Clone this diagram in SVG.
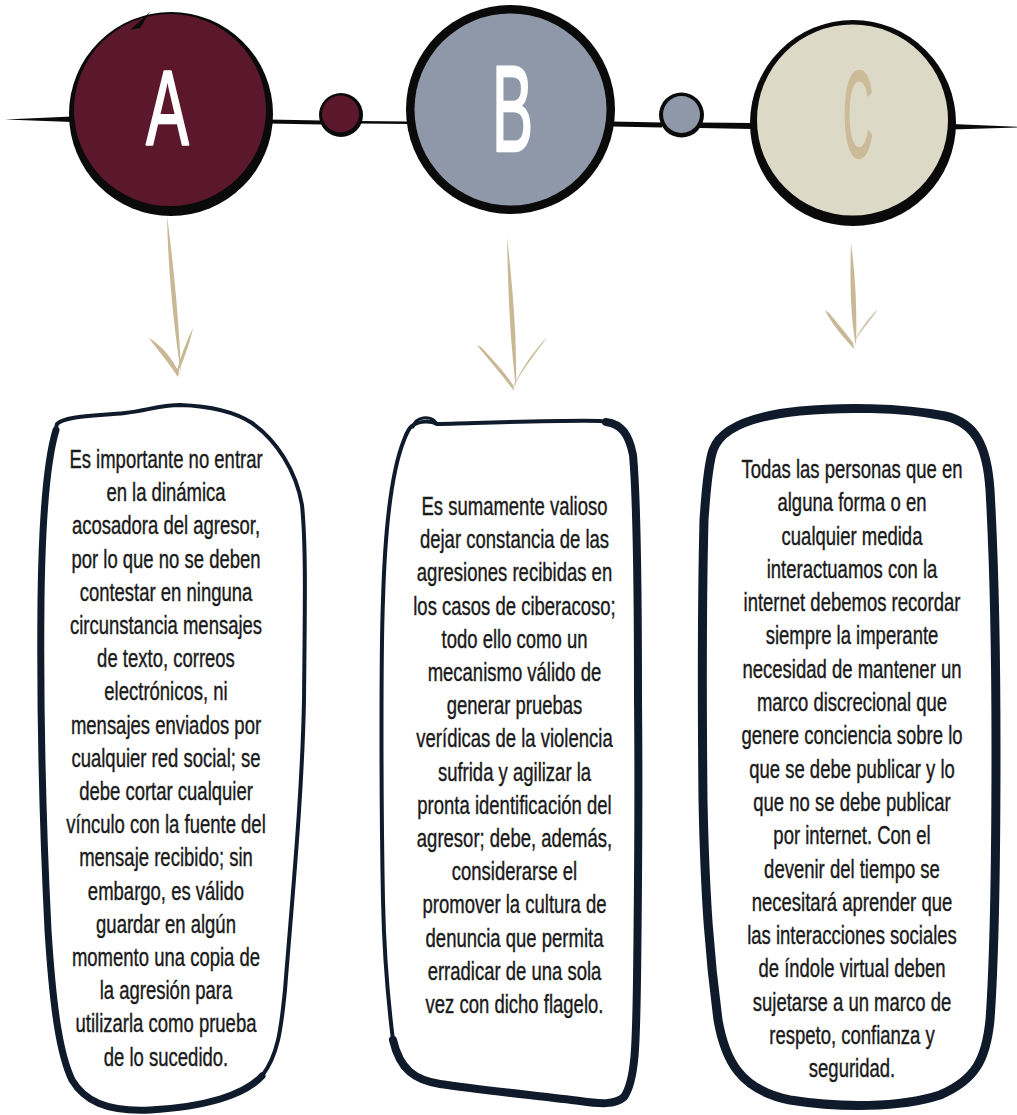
<svg xmlns="http://www.w3.org/2000/svg" width="1017" height="1115" viewBox="0 0 1017 1115">
<style>
.ink{fill:#0a0a0a}
.line{fill:#0a0a0a}
.arrow{fill:#c8b896}
.box{fill:#ffffff;stroke:#0f1b2b;stroke-linejoin:round;stroke-linecap:round}
.boxedge{fill:none;stroke:#0f1b2b;stroke-linecap:round;stroke-linejoin:round}
.t{font-family:"Liberation Sans",Arial,sans-serif;font-size:25px;fill:#1a1a1a;stroke:#1a1a1a;stroke-width:0.4px;text-anchor:middle}
.letter{font-family:"Liberation Sans",Arial,sans-serif;font-weight:normal;text-anchor:middle;stroke-width:2.5px;stroke-linejoin:round}
</style>
<rect width="1017" height="1115" fill="#ffffff"/>

<g id="connectors">
  <path class="line" d="M5,119.5 L72,116.5 L72,122 Z"/>
  <path class="line" d="M268,119.5 L322,120.5 L322,124.5 L268,123.5 Z"/>
  <path class="line" d="M358,121 L410,121.5 L410,124 L358,123.5 Z"/>
  <path class="line" d="M612,121.5 L662,122.5 L662,127.5 L612,126.5 Z"/>
  <path class="line" d="M700,122.5 L752,123 L752,129 L700,128 Z"/>
  <path class="line" d="M952,124 L1017,126.8 L1017,127.6 L952,129.5 Z"/>
  <!-- arrow A -->
  <path class="arrow" d="M167,216 C173,260 179,320 181,373 C174,330 168,270 167,216 Z"/>
  <path class="arrow" d="M149,338 C162,346 173,358 180,376 C175,368 160,353 149,338 Z"/>
  <path class="arrow" d="M149,338 L153,341 C163,352 172,362 179,371 L178,377 C168,362 158,350 149,338 Z"/>
  <path class="arrow" d="M193,328 C185,345 179,360 176,376 C183,362 189,346 193,328 Z"/>
  <path class="arrow" d="M193,328 L191,334 C185,348 180,362 178,372 L176,376 C180,360 186,344 193,328 Z"/>
  <!-- arrow B -->
  <path class="arrow" d="M507,237 C513,290 517,340 516,388 C510,340 508,290 507,237 Z"/>
  <path class="arrow" d="M477,345 C491,359 505,374 515,391 C507,379 490,361 477,345 Z"/>
  <path class="arrow" d="M477,345 L481,347 C495,362 506,374 513,385 L514,391 C503,376 489,360 477,345 Z"/>
  <path class="arrow" d="M547,337 C533,355 521,372 511,391 C520,371 532,353 547,337 Z"/>
  <path class="arrow" d="M547,337 L543,343 C531,359 520,375 513,387 L511,391 C522,372 533,354 547,337 Z"/>
  <!-- arrow C -->
  <path class="arrow" d="M851,243 C856,280 857,315 856,346 C850,315 850,280 851,243 Z"/>
  <path class="arrow" d="M825,310 C835,322 846,334 855,349 C846,341 833,326 825,310 Z"/>
  <path class="arrow" d="M825,310 L829,313 C838,324 847,334 853,343 L854,349 C844,336 833,324 825,310 Z"/>
  <path class="arrow" d="M878,309 C867,322 857,334 851,349 C858,331 868,319 878,309 Z"/>
  <path class="arrow" d="M878,309 L874,315 C865,326 857,337 853,345 L851,349 C858,334 867,321 878,309 Z"/>
</g>

<g id="node-a">
  <circle class="ink" cx="171" cy="114" r="102"/>
  <circle cx="170" cy="110" r="96" fill="#5b172b"/>
  <path class="ink" d="M130,30 L150,12 L140,28 Z"/>
  <text class="letter" x="0" y="144" font-size="106" fill="#ffffff" stroke="#ffffff" transform="translate(167.5,0) scale(0.6,1)">A</text>
</g>

<g id="dot-1">
  <circle class="ink" cx="341" cy="115" r="22"/>
  <circle cx="340.5" cy="114" r="18.5" fill="#5b172b"/>
</g>

<g id="node-b">
  <circle class="ink" cx="510.5" cy="109.5" r="104.5"/>
  <circle cx="510.5" cy="109.5" r="96" fill="#8f98a8"/>
  <text class="letter" x="0" y="151" font-size="123" fill="#ffffff" stroke="#ffffff" transform="translate(512.5,0) scale(0.5,1)">B</text>
</g>

<g id="dot-2">
  <circle class="ink" cx="681.5" cy="115" r="22.5"/>
  <circle cx="681.5" cy="114.5" r="18.5" fill="#8f98a8"/>
</g>

<g id="node-c">
  <circle class="ink" cx="853" cy="123" r="103"/>
  <circle cx="852.5" cy="120" r="95.5" fill="#dcd9c6"/>
  <text class="letter" x="0" y="157" font-size="123" fill="#cbbb99" stroke="#cbbb99" transform="translate(858,0) scale(0.34,1)">C</text>
</g>

<g id="box-a">
  <path class="box" stroke-width="4" d="M57,424 C64,416 95,416 125,413 C145,411 160,405 180,405 C210,406 235,412 252,423 C276,440 296,470 302,505 C306,545 305,600 304,700 C302,800 292,900 285,990 C281,1030 278,1055 262,1076 C245,1095 205,1107 150,1110 C105,1112 84,1100 72,1080 C60,1055 53,1010 48,930 C43,830 40,700 41,600 C42,520 47,460 57,424 Z"/>
  <path class="boxedge" stroke-width="7" d="M56,430 C47,460 42,520 41,600 C40,700 43,830 48,930 C53,1010 60,1055 72,1080 C84,1100 105,1112 150,1110 C205,1107 245,1095 262,1076"/>
  <g transform="translate(166,0) scale(0.74,1)">
    <text class="t" x="0" y="468">Es importante no entrar</text>
    <text class="t" x="0" y="501.2">en la dinámica</text>
    <text class="t" x="0" y="534.4">acosadora del agresor,</text>
    <text class="t" x="0" y="567.6">por lo que no se deben</text>
    <text class="t" x="0" y="600.8">contestar en ninguna</text>
    <text class="t" x="0" y="634">circunstancia mensajes</text>
    <text class="t" x="0" y="667.2">de texto, correos</text>
    <text class="t" x="0" y="700.4">electrónicos, ni</text>
    <text class="t" x="0" y="733.6">mensajes enviados por</text>
    <text class="t" x="0" y="766.8">cualquier red social; se</text>
    <text class="t" x="0" y="800">debe cortar cualquier</text>
    <text class="t" x="0" y="833.2">vínculo con la fuente del</text>
    <text class="t" x="0" y="866.4">mensaje recibido; sin</text>
    <text class="t" x="0" y="899.6">embargo, es válido</text>
    <text class="t" x="0" y="932.8">guardar en algún</text>
    <text class="t" x="0" y="966">momento una copia de</text>
    <text class="t" x="0" y="999.2">la agresión para</text>
    <text class="t" x="0" y="1032.4">utilizarla como prueba</text>
    <text class="t" x="0" y="1065.6">de lo sucedido.</text>
  </g>
</g>

<g id="box-b">
  <path class="box" stroke-width="4" d="M412,426 C420,420 432,421 437,424 C480,423 560,420 600,421 C618,422 628,432 632,455 C637,500 638,600 638,700 C639,800 638,900 637,980 C636,1040 636,1080 624,1097 C615,1105 600,1104 580,1101 C540,1096 480,1090 440,1084 C415,1080 400,1070 393,1040 C388,1000 384,950 383,900 C381,800 381,650 383,600 C385,530 392,470 404,440 C407,432 409,428 412,426 Z"/>
  <path class="boxedge" stroke-width="3" d="M413,427 C414,417 431,414 437,424"/>
  <path class="boxedge" stroke-width="8" d="M606,422 C622,424 629,435 633,455 C637,500 638,600 638,700 C639,800 638,900 637,980 C636,1040 636,1080 624,1097 C615,1105 600,1104 580,1101 C540,1096 480,1090 440,1084 C415,1080 400,1070 393,1040"/>
  <g transform="translate(514.5,0) scale(0.74,1)">
    <text class="t" x="0" y="515">Es sumamente valioso</text>
    <text class="t" x="0" y="548.2">dejar constancia de las</text>
    <text class="t" x="0" y="581.4">agresiones recibidas en</text>
    <text class="t" x="0" y="614.6">los casos de ciberacoso;</text>
    <text class="t" x="0" y="647.8">todo ello como un</text>
    <text class="t" x="0" y="681">mecanismo válido de</text>
    <text class="t" x="0" y="714.2">generar pruebas</text>
    <text class="t" x="0" y="747.4">verídicas de la violencia</text>
    <text class="t" x="0" y="780.6">sufrida y agilizar la</text>
    <text class="t" x="0" y="813.8">pronta identificación del</text>
    <text class="t" x="0" y="847">agresor; debe, además,</text>
    <text class="t" x="0" y="880.2">considerarse el</text>
    <text class="t" x="0" y="913.4">promover la cultura de</text>
    <text class="t" x="0" y="946.6">denuncia que permita</text>
    <text class="t" x="0" y="979.8">erradicar de una sola</text>
    <text class="t" x="0" y="1013">vez con dicho flagelo.</text>
  </g>
</g>

<g id="box-c">
  <path class="box" stroke-width="9" d="M713,450 C722,425 760,415 800,411 C840,407 900,407 945,416 C975,423 987,445 990,490 C994,560 996,650 996,750 C996,850 995,950 990,1020 C986,1060 975,1080 940,1095 C900,1108 840,1108 790,1100 C740,1090 725,1060 718,1020 C710,960 705,900 703,800 C702,700 702,600 704,520 C706,490 708,465 713,450 Z"/>
  <g transform="translate(852,0) scale(0.74,1)">
    <text class="t" x="0" y="478">Todas las personas que en</text>
    <text class="t" x="0" y="511.3">alguna forma o en</text>
    <text class="t" x="0" y="544.6">cualquier medida</text>
    <text class="t" x="0" y="577.9">interactuamos con la</text>
    <text class="t" x="0" y="611.2">internet debemos recordar</text>
    <text class="t" x="0" y="644.5">siempre la imperante</text>
    <text class="t" x="0" y="677.8">necesidad de mantener un</text>
    <text class="t" x="0" y="711.1">marco discrecional que</text>
    <text class="t" x="0" y="744.4">genere conciencia sobre lo</text>
    <text class="t" x="0" y="777.7">que se debe publicar y lo</text>
    <text class="t" x="0" y="811">que no se debe publicar</text>
    <text class="t" x="0" y="844.3">por internet. Con el</text>
    <text class="t" x="0" y="877.6">devenir del tiempo se</text>
    <text class="t" x="0" y="910.9">necesitará aprender que</text>
    <text class="t" x="0" y="944.2">las interacciones sociales</text>
    <text class="t" x="0" y="977.5">de índole virtual deben</text>
    <text class="t" x="0" y="1010.8">sujetarse a un marco de</text>
    <text class="t" x="0" y="1044.1">respeto, confianza y</text>
    <text class="t" x="0" y="1077.4">seguridad.</text>
  </g>
</g>
</svg>
